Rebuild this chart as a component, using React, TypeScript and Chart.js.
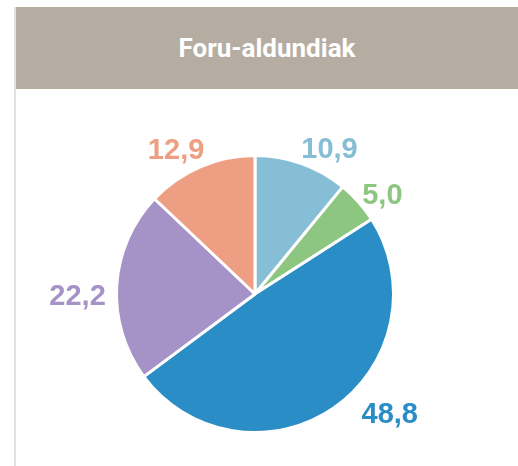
import React, { useEffect, useRef } from "react";
import { Chart, registerables } from "chart.js";

Chart.register(...registerables);

const title = "Foru-aldundiak";
const categories = ["A", "B", "C", "D", "E"];
const values = [10.9, 5.0, 48.8, 22.2, 12.9];
const valueLabels = ["10,9", "5,0", "48,8", "22,2", "12,9"];
const colors = ["#86bed6", "#8dc680", "#2a8dc5", "#a592c6", "#ee9f83"];
// small per-label nudges (px) applied after geometric placement
const labelNudgeX = [-2, 0, 25, -6, 6];
const labelNudgeY = [2, 8, -8, 12, 0];

const labelPlugin = {
  id: "outerLabels",
  afterDatasetsDraw(chart: any) {
    const ctx = chart.ctx;
    const meta = chart.getDatasetMeta(0);
    ctx.save();
    ctx.font = "bold 29px 'Liberation Sans', Arial, sans-serif";
    ctx.textAlign = "center";
    ctx.textBaseline = "middle";
    const h = 22;
    meta.data.forEach((arc: any, i: number) => {
      const mid = (arc.startAngle + arc.endAngle) / 2;
      const R = arc.outerRadius + 5;
      const cos = Math.cos(mid);
      const sin = Math.sin(mid);
      const w = ctx.measureText(valueLabels[i]).width;
      let x = arc.x + cos * R;
      let y = arc.y + sin * R;
      if (Math.abs(cos) > 0.3) x += Math.sign(cos) * (w / 2);
      if (Math.abs(sin) > 0.3) y += Math.sign(sin) * (h / 2);
      ctx.fillStyle = colors[i];
      ctx.fillText(valueLabels[i], x + labelNudgeX[i], y + labelNudgeY[i]);
    });
    ctx.restore();
  },
};

export default function App() {
  const ref = useRef<HTMLCanvasElement>(null);
  useEffect(() => {
    if (!ref.current) return;
    const chart = new Chart(ref.current, {
      type: "pie",
      data: {
        labels: categories,
        datasets: [
          {
            data: values,
            backgroundColor: colors,
            borderColor: "#ffffff",
            borderWidth: 3,
          },
        ],
      },
      options: {
        responsive: false,
        animation: false,
        layout: { padding: { left: 115, right: 123, top: 154, bottom: 32 } },
        plugins: {
          legend: { display: false },
          tooltip: { enabled: false },
        },
      },
      plugins: [labelPlugin],
    });
    return () => chart.destroy();
  }, []);

  return (
    <div style={{ position: "fixed", left: 0, top: 0, width: 518, height: 466, background: "#fff", overflow: "hidden" }}>
      <div style={{ position: "absolute", left: 14, top: 7, width: 2, bottom: 0, background: "#e1e1e1" }} />
      <div
        style={{
          position: "absolute",
          left: 16,
          top: 7,
          right: 0,
          height: 82,
          background: "#b5ada2",
          color: "#ffffff",
          display: "flex",
          alignItems: "center",
          justifyContent: "center",
          fontFamily: "Roboto, 'Liberation Sans', Arial, sans-serif",
          fontWeight: 700,
          fontSize: 26,
        }}
      >
        {title}
      </div>
      <canvas ref={ref} width={518} height={466} style={{ position: "absolute", left: 0, top: 0 }} />
    </div>
  );
}
